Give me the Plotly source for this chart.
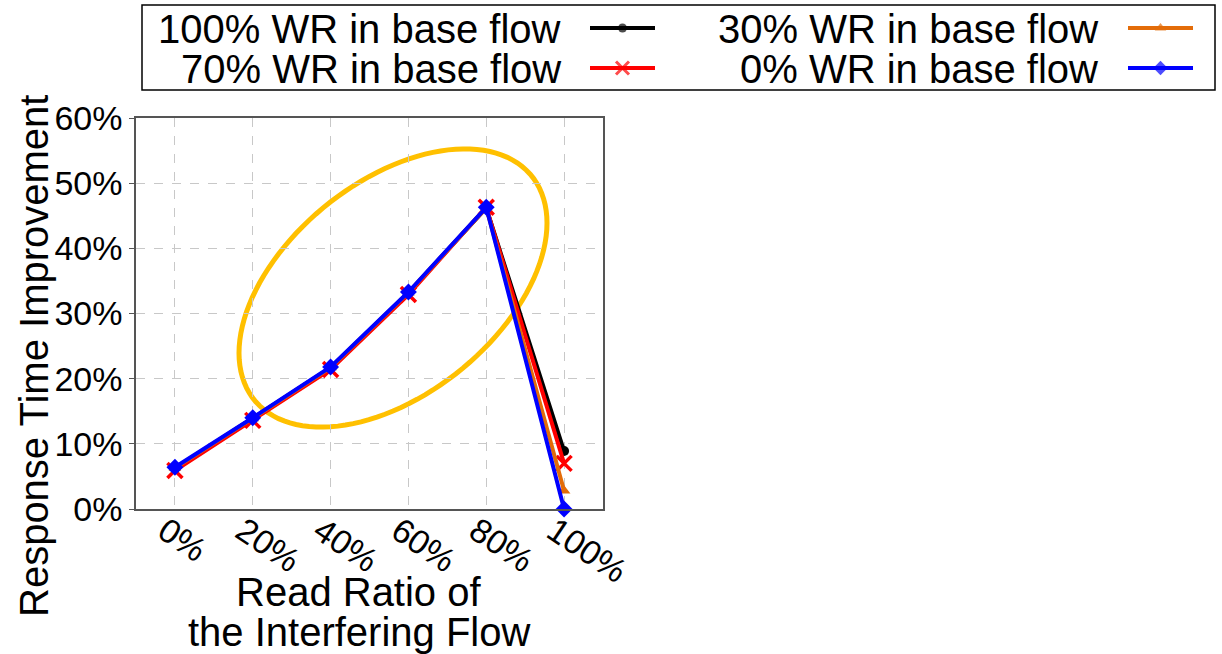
import numpy as np
import plotly.graph_objects as go

# ---------------- data ----------------
read_ratio = [0, 20, 40, 60, 80, 100]
x_tick_labels = ["0%", "20%", "40%", "60%", "80%", "100%"]
y_tick_vals = [0, 10, 20, 30, 40, 50, 60]
y_tick_labels = ["0%", "10%", "20%", "30%", "40%", "50%", "60%"]

wr100 = [6.2, 13.9, 21.7, 33.2, 46.2, 8.9]
wr70 = [5.9, 13.6, 21.4, 32.9, 46.3, 7.0]
wr30 = [6.3, 13.9, 21.7, 33.2, 46.2, 2.8]
wr0 = [6.4, 14.0, 21.8, 33.3, 46.3, 0.0]

series_names = ["100% WR in base flow", "70% WR in base flow",
                "30% WR in base flow", "0% WR in base flow"]
series_values = [wr100, wr70, wr30, wr0]

# ---------------- styles / layout ----------------
W, H = 1222, 654
PL, PR, PT, PB = 136, 603, 118, 509          # plot area in pixels
XR = [-10, 110]
YR = [0, 60]
FONT = "Liberation Sans, Arial, Helvetica, sans-serif"
colors = ["#000000", "#FF0000", "#E36C09", "#0000FF"]
symbols = ["circle", "x-thin", "triangle-up", "diamond"]
msizes = [10, 15, 11, 13]
legend_msizes = [9, 13, 10, 11]

fig = go.Figure()

for name, vals, c, s, ms in zip(series_names, series_values, colors, symbols, msizes):
    fig.add_trace(go.Scatter(
        x=read_ratio, y=vals, mode="lines+markers", name=name,
        line=dict(color=c, width=4),
        marker=dict(symbol=s, size=ms, color=c,
                    line=dict(color=c, width=3.5 if s == "x-thin" else 0)),
        showlegend=False, xaxis="x", yaxis="y", cliponaxis=False))

# ---- custom legend (text left of sample, like the reference) ----
leg_text_right = [563, 563, 1100, 1100]
leg_sample = [(590, 655), (590, 655), (1128, 1193), (1128, 1193)]
leg_row_y = [28, 68, 28, 68]
legend_order = [0, 1, 2, 3]
for i in legend_order:
    x0, x1 = leg_sample[i]
    fig.add_trace(go.Scatter(
        x=[x0, (x0 + x1) / 2, x1], y=[leg_row_y[i]] * 3,
        mode="lines+markers", xaxis="x2", yaxis="y2", showlegend=False,
        line=dict(color=colors[i], width=4),
        marker=dict(symbol=symbols[i], size=[0, legend_msizes[i], 0], color=colors[i],
                    line=dict(color=colors[i], width=3 if symbols[i] == "x-thin" else 0)),
        hoverinfo="skip"))

annotations = []
for i in legend_order:
    annotations.append(dict(
        x=leg_text_right[i], y=leg_row_y[i] + 1, xref="x2", yref="y2",
        text=series_names[i], showarrow=False, xanchor="right", yanchor="middle",
        font=dict(family=FONT, size=40, color="black")))

# axis titles
annotations.append(dict(x=358, y=592, xref="x2", yref="y2", text="Read Ratio of",
                        showarrow=False, xanchor="center", yanchor="middle",
                        font=dict(family=FONT, size=40, color="black")))
annotations.append(dict(x=359, y=632, xref="x2", yref="y2", text="the Interfering Flow",
                        showarrow=False, xanchor="center", yanchor="middle",
                        font=dict(family=FONT, size=40, color="black")))
annotations.append(dict(x=34, y=356, xref="x2", yref="y2", text="Response Time Improvement",
                        showarrow=False, textangle=-90, xanchor="center", yanchor="middle",
                        font=dict(family=FONT, size=40, color="black")))

# ---- highlight ellipse (computed in pixels, converted to data coords) ----
t = np.linspace(0, 2 * np.pi, 121)
px = 393 + 154 * np.cos(t)
py = 288 - 65 * np.cos(t) + 123 * np.sin(t)
xd = XR[0] + (px - PL) * (XR[1] - XR[0]) / (PR - PL)
yd = YR[0] + (PB - py) * (YR[1] - YR[0]) / (PB - PT)
path = "M " + " L ".join(f"{a:.3f},{b:.3f}" for a, b in zip(xd, yd)) + " Z"

shapes = [
    dict(type="path", path=path, xref="x", yref="y", layer="below",
         line=dict(color="#FFC000", width=5)),
    dict(type="rect", x0=142, x1=1215, y0=5, y1=90, xref="x2", yref="y2",
         line=dict(color="black", width=1.5), fillcolor="rgba(0,0,0,0)"),
]

grid = dict(showgrid=True, gridcolor="#c8c8c8", gridwidth=1, griddash="dash")

fig.update_layout(
    width=W, height=H, autosize=False,
    margin=dict(l=0, r=0, t=0, b=0, pad=0, autoexpand=False),
    paper_bgcolor="white", plot_bgcolor="rgba(0,0,0,0)",
    font=dict(family=FONT, color="black"),
    xaxis=dict(domain=[PL / W, PR / W], range=XR, tickvals=read_ratio,
               ticktext=x_tick_labels, tickangle=34, automargin=False,
               ticklabelstandoff=-13, ticklabelshift=-10,
               tickfont=dict(family=FONT, size=34, color="black"),
               showline=True, mirror=True, linecolor="#555555", linewidth=1.5,
               ticks="", zeroline=False, anchor="y", **grid),
    yaxis=dict(domain=[(H - PB) / H, (H - PT) / H], range=YR, tickvals=y_tick_vals,
               ticktext=y_tick_labels, automargin=False,
               tickfont=dict(family=FONT, size=34, color="black"),
               showline=True, mirror=True, linecolor="#555555", linewidth=1.5,
               ticks="outside", ticklen=5, tickcolor="#555555",
               zeroline=False, anchor="x", **grid),
    xaxis2=dict(domain=[0, 1], range=[0, W], visible=False, anchor="y2",
                fixedrange=True, automargin=False),
    yaxis2=dict(domain=[0, 1], range=[H, 0], visible=False, anchor="x2",
                fixedrange=True, automargin=False),
    annotations=annotations,
    shapes=shapes,
    showlegend=False,
)

fig.write_html("out.html", config={"responsive": False, "displayModeBar": False},
               post_script="document.body.style.margin='0';"
                           "document.body.style.padding='0';"
                           "document.body.style.overflow='hidden';")
